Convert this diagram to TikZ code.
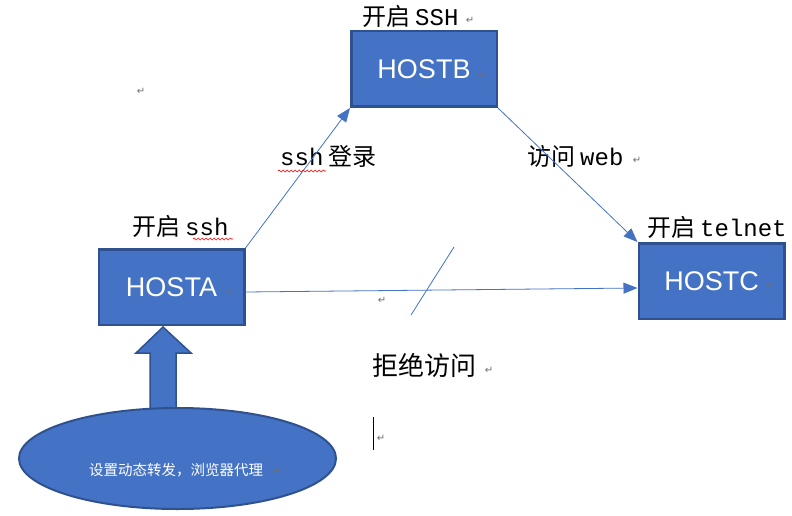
\documentclass[tikz,border=0pt]{standalone}
\usepackage{fontspec}
\newfontfamily\cjk{Noto Sans CJK SC}
\newfontfamily\lmono{Liberation Mono}
\newfontfamily\hostfont{Liberation Sans}
\newfontfamily\markfont{DejaVu Sans}
\usepackage{xcolor}
\definecolor{boxblue}{RGB}{68,114,196}
\definecolor{edgeblue}{RGB}{47,82,143}
\definecolor{markgray}{RGB}{110,110,110}
\usetikzlibrary{shapes.geometric, arrows.meta, positioning, calc, decorations.pathmorphing}
\tikzstyle{host}=[rectangle, minimum width=145.5pt, minimum height=75.5pt,
  fill=boxblue, draw=edgeblue, line width=2.5pt, text=white,
  font=\hostfont\fontsize{27}{30}\selectfont]
\tikzstyle{tag}=[anchor=base west, inner sep=0pt, font=\cjk\fontsize{24}{26}\selectfont]
\tikzstyle{retmark}=[inner sep=0pt, text=markgray, font=\markfont\fontsize{10}{10}\selectfont]
\tikzstyle{link}=[-{Triangle[length=14pt, width=11pt]}, line width=0.8pt, color=boxblue]
\tikzstyle{spell}=[red, line width=0.6pt, decorate,
  decoration={snake, segment length=4pt, amplitude=1pt}]

\begin{document}
\begin{tikzpicture}[x=1pt, y=-1pt]
  \useasboundingbox (0,0) rectangle (792,516);
  \fill[white] (0,0) rectangle (792,516);

  \node[host] (hostb) at (424,69) {HOSTB};
  \node[host] (hosta) at (171.5,287) {HOSTA};
  \node[host] (hostc) at (711.5,281) {HOSTC};

  \node[tag] (tagb) at (362,26) {开启\hspace{5pt}{\lmono SSH}};
  \node[tag] (taga) at (132,235) {开启\hspace{5pt}{\lmono ssh}};
  \node[tag] (tagc) at (647,236) {开启\hspace{5pt}{\lmono telnet}};
  \node[tag] (login) at (280,165) {{\lmono ssh}\hspace{5pt}登录};
  \node[tag] (web) at (527,165) {访问\hspace{5pt}{\lmono web}};
  \node[tag, font=\cjk\fontsize{26}{28}\selectfont] (deny) at (372,375) {拒绝访问};

  \draw[link] (hosta.north east) -- (hostb.south west);
  \draw[link] (hostb.south east) -- (hostc.north west);
  \draw[link] ($(hosta.east)+(0,5)$) -- ($(hostc.west)+(0,7)$);
  \draw[boxblue, line width=0.8pt] (454,247) -- (411,315);

  % block arrow, then the ellipse over its foot
  \draw[fill=boxblue, draw=edgeblue, line width=1.5pt]
    (150,420) -- (150,353) -- (136,353) -- (163,327) -- (191,353)
    -- (176,353) -- (176,420) -- cycle;
  \node[ellipse, minimum width=317pt, minimum height=101pt, fill=boxblue,
    draw=edgeblue, line width=2pt] (proxy) at (177.5,458.5) {};
  \node[text=white, inner sep=0pt, font=\cjk\fontsize{14.5}{16}\selectfont]
    (proxytxt) at (176,470) {设置动态转发，浏览器代理};

  \draw[spell] (193,239) -- (233,239);
  \draw[spell] (278,171) -- (326,171);
  \draw[line width=0.9pt] (373,417) -- (373,450);

  \node[retmark] at (141,91) {↵};
  \node[retmark] at (470,20) {↵};
  \node[retmark] at (482,75) {↵};
  \node[retmark] at (230,292) {↵};
  \node[retmark] at (770,285) {↵};
  \node[retmark] at (637,160) {↵};
  \node[retmark] at (382,300) {↵};
  \node[retmark] at (489,370) {↵};
  \node[retmark] at (381,438) {↵};
  \node[retmark] at (277,471) {↵};
\end{tikzpicture}
\end{document}
